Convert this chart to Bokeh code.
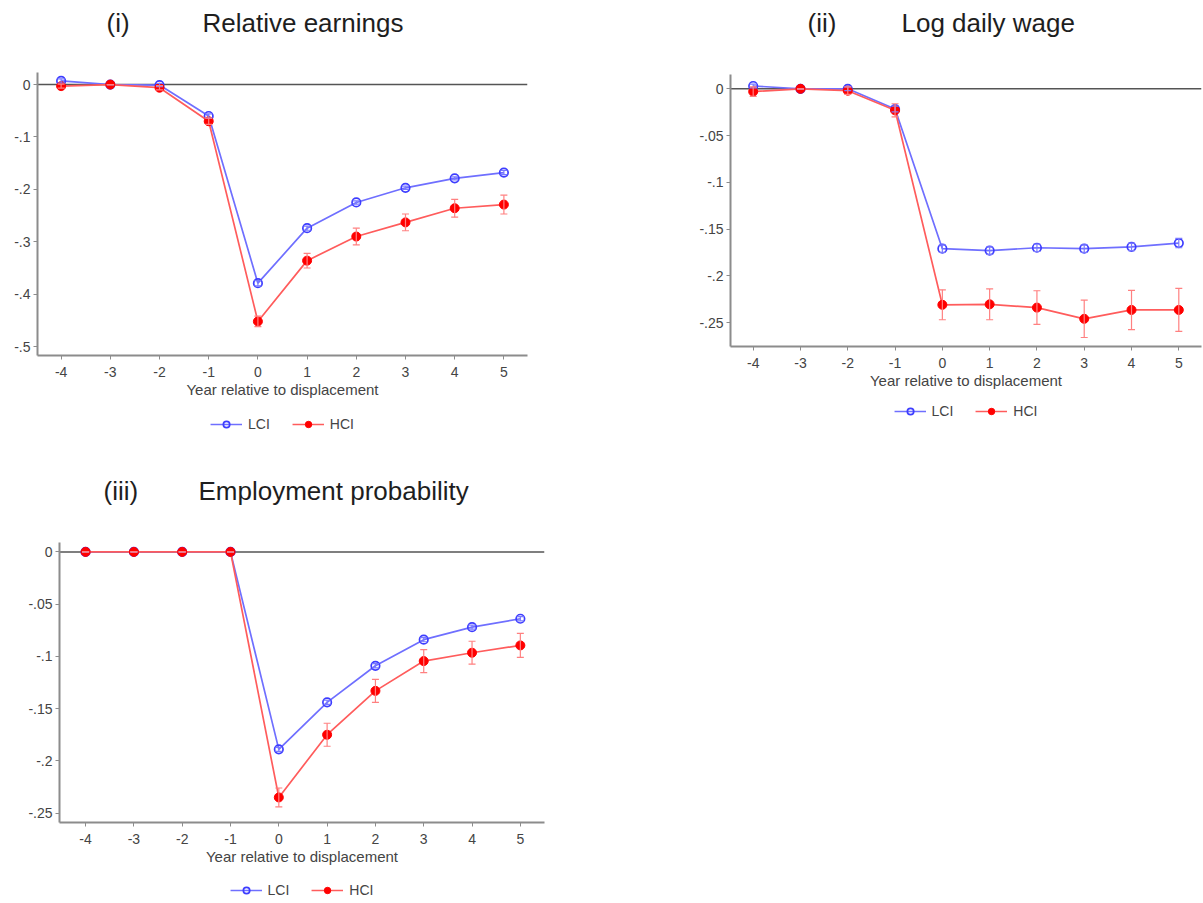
from bokeh.plotting import figure
from bokeh.models import (Range1d, FixedTicker, CustomJSTickFormatter, Span, Whisker, TeeHead,
                          ColumnDataSource, Legend, LegendItem, Label)
from bokeh.layouts import column, row
from bokeh.embed import file_html
from bokeh.resources import INLINE

# ---------------- data ----------------
years = [-4, -3, -2, -1, 0, 1, 2, 3, 4, 5]

earn_lci = [0.007, 0.0, -0.001, -0.060, -0.379, -0.274, -0.225, -0.197, -0.179, -0.168]
earn_lci_ci = [0.004, 0.0, 0.003, 0.004, 0.005, 0.004, 0.003, 0.003, 0.003, 0.004]
earn_hci = [-0.003, 0.0, -0.006, -0.070, -0.452, -0.336, -0.290, -0.263, -0.236, -0.229]
earn_hci_ci = [0.004, 0.0, 0.004, 0.006, 0.010, 0.014, 0.016, 0.016, 0.017, 0.018]

wage_lci = [0.003, 0.0, 0.0, -0.0216, -0.171, -0.173, -0.170, -0.171, -0.169, -0.165]
wage_lci_ci = [0.002, 0.0, 0.002, 0.003, 0.004, 0.004, 0.004, 0.004, 0.004, 0.005]
wage_hci = [-0.003, 0.0, -0.002, -0.023, -0.231, -0.2305, -0.234, -0.246, -0.2365, -0.2365]
wage_hci_ci = [0.005, 0.0, 0.004, 0.007, 0.016, 0.0165, 0.018, 0.020, 0.021, 0.023]

emp_lci = [0.0, 0.0, 0.0, 0.0, -0.189, -0.144, -0.109, -0.084, -0.072, -0.064]
emp_lci_ci = [0.0, 0.0, 0.0, 0.0, 0.002, 0.002, 0.002, 0.002, 0.002, 0.002]
emp_hci = [0.0, 0.0, 0.0, 0.0, -0.235, -0.175, -0.133, -0.1045, -0.0965, -0.0895]
emp_hci_ci = [0.0, 0.0, 0.0, 0.0, 0.009, 0.011, 0.011, 0.011, 0.011, 0.0115]

earn_ticks = [0, -0.1, -0.2, -0.3, -0.4, -0.5]
wage_ticks = [0, -0.05, -0.1, -0.15, -0.2, -0.25]
emp_ticks = [0, -0.05, -0.1, -0.15, -0.2, -0.25]

series_names = ["LCI", "HCI"]
x_title = "Year relative to displacement"
panel_tags = ["(i)", "(ii)", "(iii)"]
panel_titles = ["Relative earnings", "Log daily wage", "Employment probability"]

FONT = "Liberation Sans"
AXIS_COL = "#8c8c8c"
TXT_COL = "#444444"
BLUE_LINE = "#6f6fff"
BLUE_MARK = "#3d3dff"
RED_LINE = "#ff5c5c"
RED_MARK = "#ff0000"

yfmt = CustomJSTickFormatter(code="""
if (Math.abs(tick) < 1e-9) { return '0'; }
var s = Math.abs(tick).toFixed(2).replace(/0+$/, '').replace(/^0/, '');
return (tick < 0 ? '-' : '') + s;
""")
xfmt = CustomJSTickFormatter(code="return (tick < 0 ? '-' : '') + Math.abs(tick).toString();")


def add_series(p, src_l, src_h):
    l1 = p.line("x", "y", source=src_l, line_color=BLUE_LINE, line_width=1.7)
    m1 = p.scatter("x", "y", source=src_l, size=8.5, marker="circle",
                   fill_color="white", fill_alpha=0.0, line_color=BLUE_MARK, line_width=1.7)
    l2 = p.line("x", "y", source=src_h, line_color=RED_LINE, line_width=1.7)
    m2 = p.scatter("x", "y", source=src_h, size=9, marker="circle",
                   fill_color=RED_MARK, line_color=RED_MARK, line_width=1)
    return l1, m1, l2, m2


def strip_fig(fw, h, left, right, xr, yr):
    f = figure(frame_width=fw, frame_height=h, output_backend="svg", toolbar_location=None,
               x_range=Range1d(*xr), y_range=Range1d(*yr),
               x_axis_location=None, y_axis_location=None,
               min_border_left=left, min_border_right=right,
               min_border_top=0, min_border_bottom=0)
    f.outline_line_color = None
    f.grid.visible = False
    return f


def panel(idx, frame, borders, title_h, tag_x, title_x, title_cy, xr, yr, yticks,
          lci, lci_ci, hci, hci_ci, leg_h, leg_margin):
    fw, fh = frame
    left, right, top, bottom = borders

    # title strip (pixel-like coordinates, y pointing down)
    t = strip_fig(fw, title_h, left, right, (0, fw), (title_h, 0))
    for txt, xx in ((panel_tags[idx], tag_x), (panel_titles[idx], title_x)):
        t.add_layout(Label(x=xx, y=title_cy, text=txt, text_font=FONT, text_font_size="26px",
                           text_color="#1e1e1e", text_baseline="middle", text_align="left"))

    p = figure(frame_width=fw, frame_height=fh, output_backend="svg", toolbar_location=None,
               x_range=Range1d(*xr), y_range=Range1d(*yr),
               min_border_left=left, min_border_right=right,
               min_border_top=top, min_border_bottom=bottom)
    p.outline_line_color = None
    p.grid.visible = False
    p.background_fill_color = "white"
    p.border_fill_color = "white"

    for ax in (p.xaxis[0], p.yaxis[0]):
        ax.axis_line_color = AXIS_COL
        ax.axis_line_width = 2
        ax.major_tick_line_color = AXIS_COL
        ax.major_tick_line_width = 1
        ax.major_tick_in = 0
        ax.major_tick_out = 4
        ax.minor_tick_line_color = None
        ax.major_label_text_font = FONT
        ax.major_label_text_font_size = "14px"
        ax.major_label_text_color = TXT_COL
    p.xaxis.major_label_standoff = 7
    p.yaxis.major_label_standoff = 3
    p.xaxis.ticker = FixedTicker(ticks=years)
    p.xaxis.formatter = xfmt
    p.yaxis.ticker = FixedTicker(ticks=yticks)
    p.yaxis.formatter = yfmt
    p.xaxis.axis_label = x_title
    p.xaxis.axis_label_text_font = FONT
    p.xaxis.axis_label_text_font_size = "15px"
    p.xaxis.axis_label_text_font_style = "normal"
    p.xaxis.axis_label_text_color = TXT_COL
    p.xaxis.axis_label_standoff = 1

    p.add_layout(Span(location=0, dimension="width", line_color="#555555",
                      line_width=1.5, level="underlay"))

    src_l = ColumnDataSource(dict(x=years, y=lci,
                                  lo=[a - b for a, b in zip(lci, lci_ci)],
                                  hi=[a + b for a, b in zip(lci, lci_ci)]))
    src_h = ColumnDataSource(dict(x=years, y=hci,
                                  lo=[a - b for a, b in zip(hci, hci_ci)],
                                  hi=[a + b for a, b in zip(hci, hci_ci)]))

    for src, col in ((src_l, "#7a7aff"), (src_h, "#ff8080")):
        w = Whisker(base="x", lower="lo", upper="hi", source=src, line_color=col,
                    line_width=1.2, level="glyph",
                    upper_head=TeeHead(size=7, line_color=col, line_width=1.2),
                    lower_head=TeeHead(size=7, line_color=col, line_width=1.2))
        p.add_layout(w)

    add_series(p, src_l, src_h)

    # legend strip below the panel (its own small figure, series kept out of view)
    g = strip_fig(fw, leg_h, left, right, (100, 101), (100, 101))
    l1, m1, l2, m2 = add_series(g, src_l, src_h)
    legend = Legend(items=[LegendItem(label=series_names[0], renderers=[l1, m1]),
                           LegendItem(label=series_names[1], renderers=[l2, m2])],
                    orientation="horizontal", location="top_center",
                    border_line_color=None, background_fill_alpha=0,
                    label_text_font=FONT, label_text_font_size="14px",
                    label_text_color=TXT_COL, glyph_width=32, glyph_height=16,
                    label_standoff=6, spacing=22, padding=0, margin=leg_margin)
    g.add_layout(legend, "center")
    return column(t, p, g)


c1 = panel(0, (490, 283), (37, 73, 22, 50), 50, 69, 165, 22,
           (-4.48, 5.48), (-0.517, 0.023), earn_ticks,
           earn_lci, earn_lci_ci, earn_hci, earn_hci_ci, 45, 11)
c2 = panel(1, (471, 272), (130, 2, 24, 50), 50, 77, 171, 22,
           (-4.48, 5.48), (-0.2756, 0.0153), wage_ticks,
           wage_lci, wage_lci_ci, wage_hci, wage_hci_ci, 54, 7)
c3 = panel(2, (485, 280), (59, 59, 30, 50), 62, 44, 139, 40,
           (-4.54, 5.50), (-0.259, 0.009), emp_ticks,
           emp_lci, emp_lci_ci, emp_hci, emp_hci_ci, 31, 10)

layout = column(row(c1, c2), row(c3))
open("out.html", "w").write(file_html(layout, INLINE))
